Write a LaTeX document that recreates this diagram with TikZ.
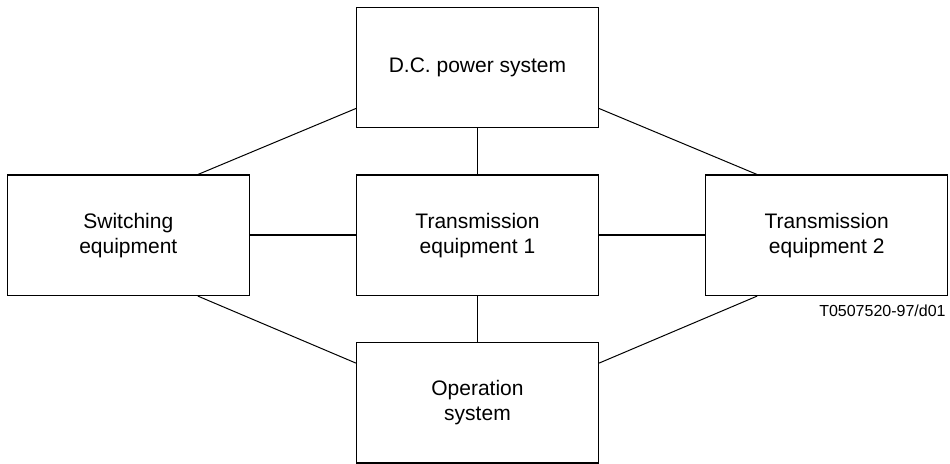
\documentclass[tikz,border=0pt]{standalone}
\usepackage{fontspec}
\setmainfont{Liberation Sans}
\usetikzlibrary{positioning,calc}

\begin{document}
\begin{tikzpicture}[x=0.5pt,y=-0.5pt,
	unitbox/.style={draw,line width=0.6pt,minimum width=121pt,minimum height=60.2pt,
		align=center,font=\fontsize{10.5}{12.5}\selectfont,inner sep=0pt},
	link/.style={line width=0.9pt},
	slant/.style={line width=0.5pt}]

	\useasboundingbox (0,0) rectangle (950,464);

	\node[unitbox] (te1) at (477.5,235.3) {Transmission\\equipment 1};
	\node[unitbox,above=23pt of te1] (dc) {D.C. power system};
	\node[unitbox,below=23pt of te1] (ops) {Operation\\system};
	\node[unitbox,left=53pt of te1] (sw) {Switching\\equipment};
	\node[unitbox,right=53pt of te1] (te2) {Transmission\\equipment 2};

	\node[anchor=east,inner sep=0pt,font=\fontsize{8}{9.6}\selectfont] (ref) at (946,311) {T0507520-97/d01};

	% straight links
	\draw[link] (dc) -- (te1);
	\draw[link] (te1) -- (ops);
	\draw[link] (sw) -- (te1);
	\draw[link] (te1) -- (te2);

	% slanted links
	\draw[slant] ($(dc.south west)+(0,-20)$) -- ($(sw.north east)+(-52,0)$);
	\draw[slant] ($(dc.south east)+(0,-20)$) -- ($(te2.north west)+(52,0)$);
	\draw[slant] ($(sw.south east)+(-52,0)$) -- ($(ops.north west)+(0,21)$);
	\draw[slant] ($(te2.south west)+(52,0)$) -- ($(ops.north east)+(0,21)$);

\end{tikzpicture}
\end{document}
